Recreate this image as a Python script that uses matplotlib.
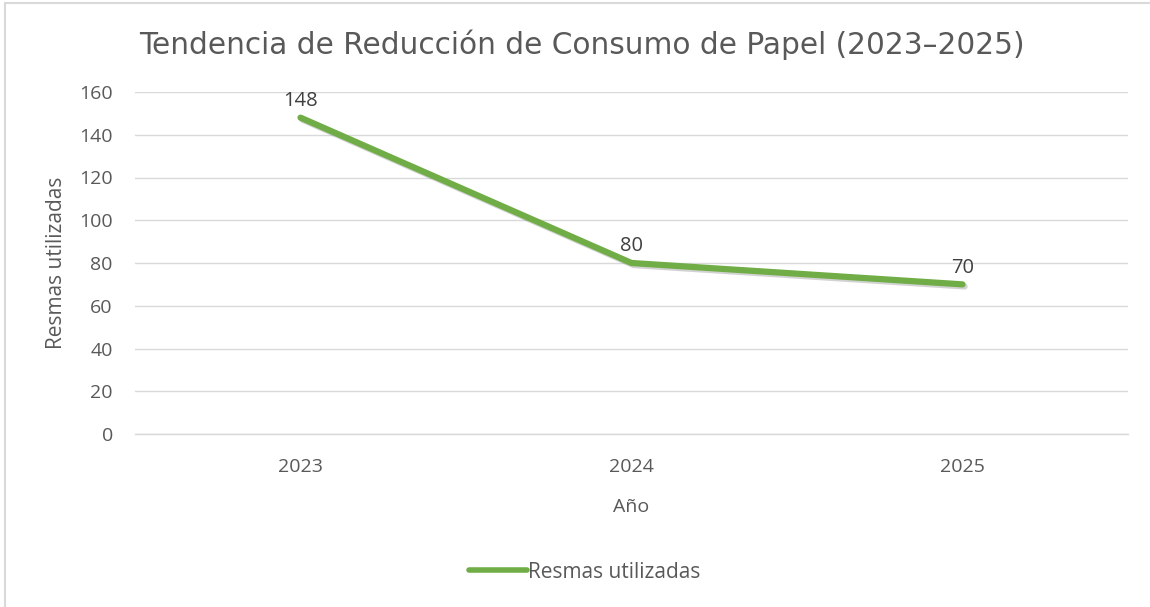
import matplotlib
matplotlib.use("Agg")
import matplotlib.pyplot as plt
from matplotlib.lines import Line2D
import matplotlib.patheffects as pe

years = ["2023", "2024", "2025"]
resmas = [148, 80, 70]
series_name = "Resmas utilizadas"
title = "Tendencia de Reducción de Consumo de Papel (2023–2025)"
yticks = [0, 20, 40, 60, 80, 100, 120, 140, 160]

txt = "#595959"
grid = "#d9d9d9"
green = "#70AD47"

plt.rcParams['font.family'] = ['Open Sans', 'DejaVu Sans']

fig = plt.figure(figsize=(11.5, 6.07), dpi=100)
ax = fig.add_axes([135/1150, 1-434/607, 993/1150, 342/607])

x = list(range(len(years)))
ax.plot(x, resmas, color=green, lw=4.5, solid_capstyle='round', solid_joinstyle='round',
        label=series_name,
        path_effects=[pe.SimpleLineShadow(offset=(1.5, -1.5), shadow_color='gray', alpha=0.35), pe.Normal()])
for xi, v in zip(x, resmas):
    ax.annotate(str(v), (xi, v), xytext=(0, 12), textcoords='offset points',
                ha='center', va='center', fontsize=14.5, color="#404040")

ax.set_xlim(-0.5, 2.5)
ax.set_ylim(0, 160)
ax.set_yticks(yticks)
ax.set_xticks(x)
ax.set_xticklabels(years)
ax.grid(axis='y', color=grid, lw=1)
ax.set_axisbelow(True)
for s in ['top', 'right', 'left']:
    ax.spines[s].set_visible(False)
ax.spines['bottom'].set_color(grid)
ax.spines['bottom'].set_linewidth(1)
ax.tick_params(axis='both', length=0, colors=txt, labelsize=14)
ax.tick_params(axis='y', pad=16)
ax.tick_params(axis='x', pad=17)
ax.set_xlabel("Año", color=txt, fontsize=14, labelpad=16)
ax.set_ylabel(series_name, color=txt, fontsize=15, labelpad=9)

fig.text(582/1150, 1-45/607, title, ha='center', va='center', fontsize=21.3, color=txt,
         family=['DejaVu Sans'])

leg = fig.legend(handles=[Line2D([0], [0], color=green, lw=4, solid_capstyle='round')],
                 labels=[series_name], loc='center', bbox_to_anchor=(585/1150, 1-572/607),
                 frameon=False, fontsize=15, handlelength=2.8, handletextpad=0.05)
for t in leg.get_texts():
    t.set_color(txt)

fig.add_artist(Line2D([5/1150, 1], [1-3/607, 1-3/607], color=grid, lw=1.5, transform=fig.transFigure))
fig.add_artist(Line2D([5/1150, 5/1150], [0, 1-3/607], color=grid, lw=1.5, transform=fig.transFigure))

fig.savefig("out.png", dpi=100)
